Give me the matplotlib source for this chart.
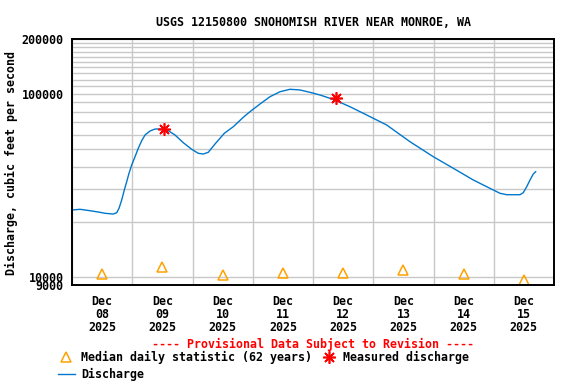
import numpy as np
import pandas as pd
import matplotlib
matplotlib.use("Agg")
import matplotlib.pyplot as plt
import matplotlib.dates as mdates
from matplotlib.lines import Line2D
from matplotlib.ticker import FixedLocator, NullFormatter

plt.rcParams['font.family'] = 'DejaVu Sans Mono'
plt.rcParams['font.weight'] = 'bold'
FS = 8.4

start = pd.Timestamp('2025-12-08 00:00')

# discharge, days since Dec 08 00:00 and cfs
flow_days = [0.0, 0.133, 0.299, 0.465, 0.548, 0.685, 0.742, 0.780, 0.825, 0.868,
             0.908, 0.946, 0.991, 1.046, 1.100, 1.157, 1.212, 1.295, 1.378, 1.489,
             1.598, 1.710, 1.847, 1.987, 2.096, 2.179, 2.262, 2.373, 2.528, 2.677,
             2.843, 2.954, 3.120, 3.286, 3.452, 3.618, 3.784, 3.950, 4.116, 4.282,
             4.448, 4.614, 5.001, 5.223, 5.610, 5.997, 6.329, 6.661, 6.827, 6.993,
             7.104, 7.215, 7.436, 7.490, 7.547, 7.602, 7.656, 7.696]
flow_cfs = [23170, 23370, 22960, 22500, 22220, 22020, 22390, 23660, 26270, 29810,
            33090, 36790, 40840, 45350, 50420, 55490, 59620, 62710, 64300, 64300,
            62950, 59620, 54110, 49790, 47340, 46930, 47940, 53220, 60910, 66200,
            74550, 80000, 88130, 96620, 102900, 106100, 105200, 102100, 98720, 94690,
            90030, 85170, 73610, 67630, 54790, 45350, 39190, 33810, 31740, 29810,
            28590, 28090, 28090, 28810, 31070, 33810, 36470, 37540]

# median daily statistic (62 years), plotted at noon
median_days = [0.5, 1.5, 2.5, 3.5, 4.5, 5.5, 6.5, 7.5]
median_cfs = [10380, 11340, 10250, 10510, 10500, 10910, 10380, 9620]

# measured discharge
meas_days = [1.532, 4.377]
meas_cfs = [64300, 94700]

y_labels = ['9000', '10000', '100000', '200000']
y_ticks = [9000, 10000, 100000, 200000]
grid_y = [v * 10000 for v in range(2, 10)] + [v * 10000 for v in range(11, 20)]


def to_dates(d):
    return start + pd.to_timedelta(np.asarray(d, float), unit='D')


fig = plt.figure(figsize=(5.76, 3.84), dpi=100)
ax = fig.add_axes([72 / 576, 1 - 285 / 384, 482 / 576, 246 / 384])

ax.set_yscale('log')
ax.set_ylim(9000, 200000)
ax.set_xlim(start, start + pd.Timedelta(days=8))

# grid
ax.yaxis.set_major_locator(FixedLocator(y_ticks))
ax.set_yticklabels(y_labels)
ax.yaxis.set_minor_locator(FixedLocator(grid_y))
ax.yaxis.set_minor_formatter(NullFormatter())
days = pd.date_range(start, periods=9, freq='D')
noons = days[:-1] + pd.Timedelta(hours=12)
ax.xaxis.set_major_locator(FixedLocator(mdates.date2num(noons)))
ax.set_xticklabels([d.strftime('%b\n%d\n%Y') for d in noons], linespacing=1.0)
ax.xaxis.set_minor_locator(FixedLocator(mdates.date2num(days)))
ax.grid(which='minor', color='#c8c8c8', lw=1.0)
ax.grid(which='major', axis='y', color='#c8c8c8', lw=1.0)
ax.set_axisbelow(True)
ax.tick_params(which='both', length=0)
ax.tick_params(axis='y', labelsize=FS, pad=6)
ax.tick_params(axis='x', labelsize=FS, pad=7)
for s in ax.spines.values():
    s.set_linewidth(1.4)
    s.set_color('black')

ax.plot(to_dates(flow_days), flow_cfs, color='#0077cc', lw=1.0)
ax.plot(to_dates(median_days), median_cfs, ls='none', marker='^', ms=7.5,
        mfc='none', mec='#ffa200', mew=1.1)
ax.plot(to_dates(meas_days), meas_cfs, ls='none', marker=(8, 2, 0), ms=9,
        mec='red', mew=1.2)

fig.text(313 / 576, 1 - 23 / 384, 'USGS 12150800 SNOHOMISH RIVER NEAR MONROE, WA',
         ha='center', va='center', fontsize=FS)
fig.text(11 / 576, 1 - 163 / 384, 'Discharge, cubic feet per second',
         rotation=90, ha='center', va='center', fontsize=FS)
fig.text(312.5 / 576, 1 - 344 / 384, '---- Provisional Data Subject to Revision ----',
         ha='center', va='center', fontsize=FS, color='red')

handles = [
    Line2D([], [], ls='none', marker='^', ms=7.5, mfc='none', mec='#ffa200', mew=1.1),
    Line2D([], [], color='#0077cc', lw=1.0),
    Line2D([], [], ls='none', marker=(8, 2, 0), ms=9, mec='red', mew=1.2),
]
labels = ['Median daily statistic (62 years)', 'Discharge', 'Measured discharge']
fig.legend(handles, labels, loc='upper left', bbox_to_anchor=(58 / 576, 1 - 351 / 384),
           ncol=2, frameon=False, fontsize=FS, borderpad=0, borderaxespad=0,
           handlelength=1.45, handletextpad=0.5, columnspacing=0.75, labelspacing=0.35)

fig.savefig('out.png', dpi=100)
